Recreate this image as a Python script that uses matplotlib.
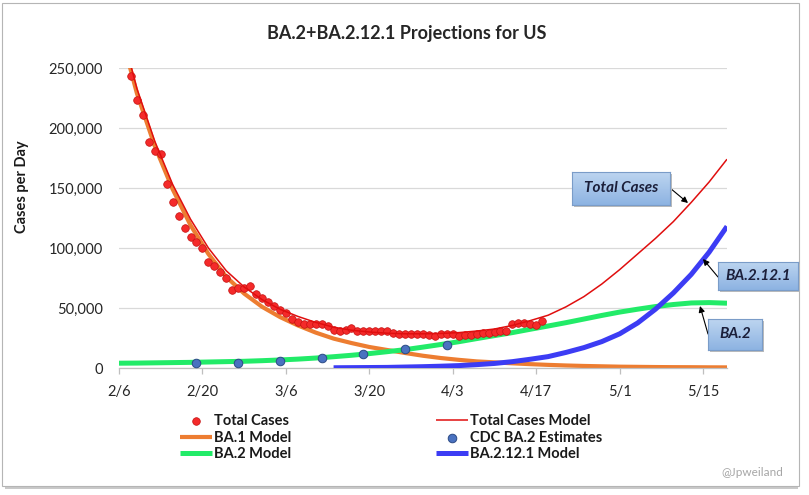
import matplotlib
matplotlib.use("Agg")
import matplotlib.pyplot as plt
import numpy as np
from matplotlib.patches import Rectangle
from matplotlib.colors import LinearSegmentedColormap
from matplotlib.ticker import FuncFormatter

plt.rcParams['font.family'] = ['Lato', 'DejaVu Sans']

# ---------------- data ----------------
tick_days = [0, 14, 28, 42, 56, 70, 84, 98]
tick_labels = ["2/6", "2/20", "3/6", "3/20", "4/3", "4/17", "5/1", "5/15"]

# observed total cases (days since 2/6), thousands
case_days = list(range(2, 72))
case_values_k = [243, 223, 211, 188, 181, 178, 153, 138, 127, 117,
                 109, 105, 100, 88, 85, 80, 75, 65, 66.5, 66.5,
                 68.5, 62, 58, 55, 52, 48, 46, 41, 38, 36.5,
                 36.5, 37, 36.5, 35, 32, 31, 32, 33, 30.5, 30.5,
                 31, 31, 31, 30.5, 29, 28.5, 28.5, 28.5, 28, 28,
                 27.5, 27, 28, 28, 28, 26.7, 27.2, 27.8, 28, 29,
                 29.5, 30, 30.5, 31, 36.5, 37.5, 37.5, 37, 35.5, 39]

# CDC BA.2 estimates
cdc_days = [13, 20, 27, 34, 41, 48, 55]
cdc_values_k = [3.9, 4.3, 5.9, 8.1, 11.6, 15.6, 19.3]

# model curves (read every 3 days)
model_days = list(range(0, 103, 3))
ba1_model_k = [285, 229, 185, 149, 119, 95, 76, 62, 51, 42.5, 35.5, 29.5,
               24.5, 20.8, 17.5, 15, 12.5, 10.2, 8.3, 6.8, 5.5, 4.7, 3.9,
               3.2, 2.6, 2.1, 1.7, 1.4, 1.1, 0.95, 0.8, 0.7, 0.65, 0.55, 0.5]
ba2_model_k = [4.0, 4.1, 4.3, 4.5, 4.7, 5.0, 5.3, 5.6, 6.1, 6.7, 7.4, 8.3,
               9.4, 10.6, 12.0, 13.6, 15.3, 17.4, 19.6, 21.9, 24.5, 27.0,
               29.5, 32.3, 35.0, 37.8, 40.8, 43.8, 46.6, 49.0, 51.2, 52.9,
               54.2, 54.5, 54.0]
total_model_k = [289, 233, 189, 153, 124, 100, 81, 67.5, 57, 49, 43, 38,
                 34, 31.5, 30, 29, 28.5, 28.5, 28.8, 29.5, 30.8, 32.5, 35.5,
                 39.5, 44, 51, 59.5, 70, 82, 95, 108, 122, 138, 155, 174]
ba2121_days = list(range(36, 103, 3))
ba2121_model_k = [0.2, 0.3, 0.4, 0.5, 0.8, 1.1, 1.5, 2.0, 2.8, 3.8, 5.3,
                  7.3, 9.5, 13, 17, 22, 28.5, 37.5, 49, 62.5, 78, 96.5, 118]

K = 1000.0
W, H = 809, 495


def fx(px):
    return px / W


def fy(py):
    return 1 - py / H


fig = plt.figure(figsize=(W / 100, H / 100), dpi=100)

# outer frame with shadow (behind everything)
fig.patches.append(Rectangle((fx(5), fy(489)), fx(798) - fx(5), fy(6) - fy(489),
                             transform=fig.transFigure, fc='#C9C9C9', ec='none', zorder=-2))
fig.patches.append(Rectangle((fx(2), fy(486)), fx(799) - fx(2), fy(3) - fy(486),
                             transform=fig.transFigure, fc='white', ec='#B5B5B5', lw=0.8, zorder=-1))

ax = fig.add_axes([fx(119), fy(368), fx(727) - fx(119), fy(68) - fy(368)])
ax.patch.set_alpha(0)
ax.set_xlim(0, 102)
ax.set_ylim(0, 250000)

line_kw = dict(solid_capstyle='butt', solid_joinstyle='round')
ax.plot(model_days, [v * K for v in ba1_model_k], color='#ED7D31', lw=3.0,
        label='BA.1 Model', zorder=2, **line_kw)
ax.plot(model_days, [v * K for v in ba2_model_k], color='#22EB68', lw=3.6,
        label='BA.2 Model', zorder=2, **line_kw)
ax.plot(ba2121_days, [v * K for v in ba2121_model_k], color='#3C3CF4', lw=3.6,
        label='BA.2.12.1 Model', zorder=3, **line_kw)
ax.scatter(case_days, [v * K for v in case_values_k], s=30, color='#F42A2A',
           edgecolor='#C41010', linewidth=0.5, label='Total Cases', zorder=4)
ax.plot(model_days, [v * K for v in total_model_k], color='#E00E0E', lw=1.1,
        label='Total Cases Model', zorder=5, **line_kw)
ax.scatter(cdc_days, [v * K for v in cdc_values_k], s=38, color='#4A72C0',
           edgecolor='#2B4A85', linewidth=0.7, label='CDC BA.2 Estimates', zorder=5)

ax.yaxis.set_major_formatter(FuncFormatter(lambda v, p: f"{v:,.0f}"))
ax.set_yticks(np.arange(0, 250001, 50000))
ax.set_xticks(tick_days)
ax.set_xticklabels(tick_labels)
ax.grid(axis='y', color='#D9D9D9', lw=0.9)
ax.set_axisbelow(True)
for s in ['top', 'right', 'left']:
    ax.spines[s].set_visible(False)
ax.spines['bottom'].set_color('#BFBFBF')
ax.spines['bottom'].set_linewidth(0.9)
ax.tick_params(axis='y', length=0, pad=11.5, labelsize=10.5, labelcolor='#262626')
ax.tick_params(axis='x', length=4, width=0.9, color='#BFBFBF', pad=8,
               labelsize=10.5, labelcolor='#262626', direction='out')

# title & axis label
fig.text(fx(407), fy(34), 'BA.2+BA.2.12.1 Projections for US', ha='center', va='center',
         fontsize=13, fontweight='bold', color='#262626')
fig.text(fx(22), fy(187), 'Cases per Day', ha='center', va='center', rotation=90,
         fontsize=10.5, fontweight='bold', color='#1A1A1A')

# legend
handles, labels = ax.get_legend_handles_labels()
order = ['Total Cases', 'BA.1 Model', 'BA.2 Model', 'Total Cases Model',
         'CDC BA.2 Estimates', 'BA.2.12.1 Model']
hmap = dict(zip(labels, handles))
leg = fig.legend([hmap[o] for o in order], order, ncol=2, loc='upper left',
                 bbox_to_anchor=(fx(180), fy(414)), frameon=False,
                 prop={'weight': 'bold', 'size': 10.5}, handlelength=2.2,
                 handletextpad=0.15, columnspacing=9.9, labelspacing=0.18,
                 borderaxespad=0, borderpad=0, scatterpoints=1)
for t in leg.get_texts():
    t.set_color('#1A1A1A')

fig.text(fx(752), fy(472), '@Jpweiland', ha='center', va='center',
         fontsize=8.5, color='#A6A6A6')

# callout boxes
cmap = LinearSegmentedColormap.from_list('bx', ['#8DB3E2', '#BDD5F0'])
grad = np.linspace(0, 1, 50).reshape(-1, 1)


def callout(x0, y0, x1, y1, text, tail, tip):
    fig.patches.append(Rectangle((fx(x0 + 2), fy(y1 + 2)), fx(x1) - fx(x0), fy(y0) - fy(y1),
                                 transform=fig.transFigure, fc='#BBBBBB', ec='none', zorder=5))
    bax = fig.add_axes([fx(x0), fy(y1), fx(x1) - fx(x0), fy(y0) - fy(y1)], zorder=6)
    bax.imshow(grad, aspect='auto', cmap=cmap, origin='lower', extent=(0, 1, 0, 1))
    bax.set_xticks([])
    bax.set_yticks([])
    for s in bax.spines.values():
        s.set_color('#7A9CC8')
        s.set_linewidth(0.8)
    bax.text(0.5, 0.5, text, ha='center', va='center', fontsize=11,
             fontweight='bold', fontstyle='italic', color='#1B1F3A',
             transform=bax.transAxes)
    ax.annotate('', xy=(fx(tip[0]), fy(tip[1])), xycoords='figure fraction',
                xytext=(fx(tail[0]), fy(tail[1])), textcoords='figure fraction',
                arrowprops=dict(arrowstyle='-|>', color='black', lw=0.8,
                                mutation_scale=9, shrinkA=0, shrinkB=0),
                annotation_clip=False, zorder=7)


callout(572, 172, 670, 205, 'Total Cases', (670, 188), (688, 203))
callout(718, 262, 798, 290, 'BA.2.12.1', (718, 277), (703, 259))
callout(708, 319, 762, 350, 'BA.2', (708, 334), (700, 306))

fig.savefig('out.png', dpi=100)
